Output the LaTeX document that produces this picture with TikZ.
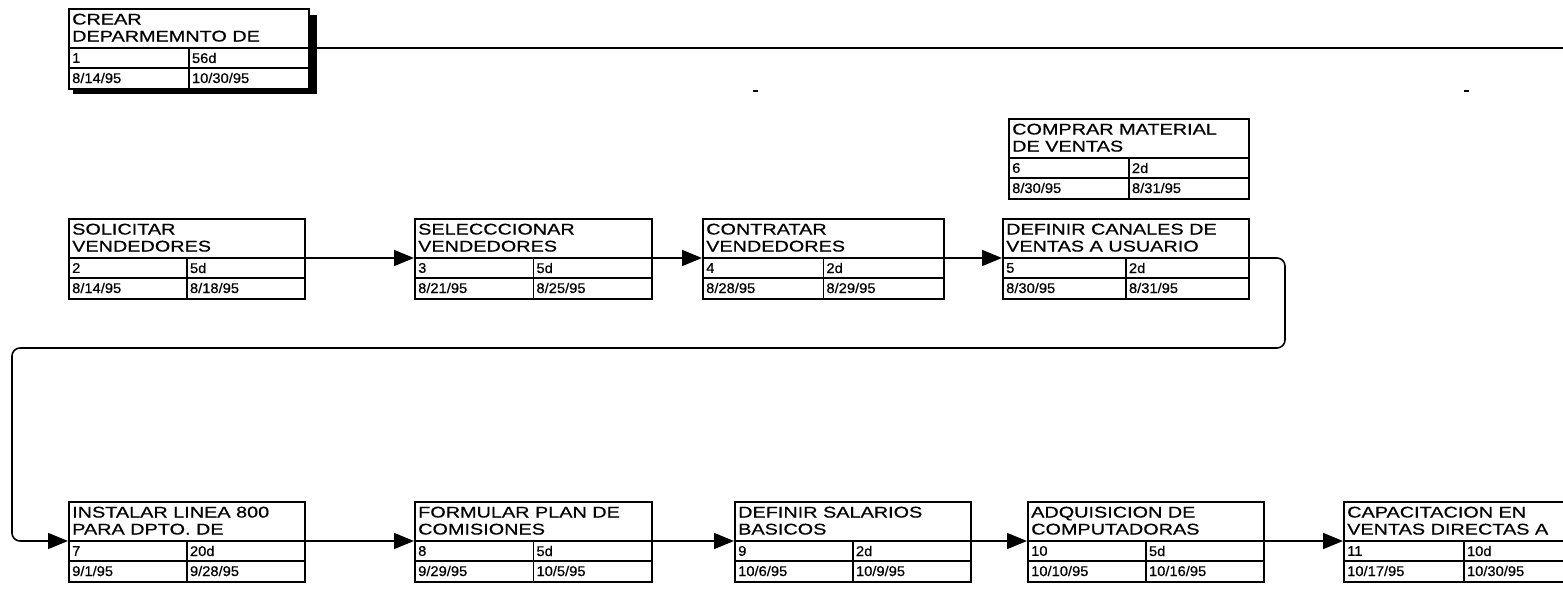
\documentclass[tikz,border=0pt]{standalone}
\usepackage{fontspec}
\setmainfont{Liberation Sans}
\newfontfamily\widesans[FakeStretch=1.28,FakeBold=0.5]{Liberation Sans}
\newfontfamily\cellsans[FakeStretch=1.05,FakeBold=0.5]{Liberation Sans}
\usetikzlibrary{arrows.meta,calc}
\tikzset{
  x=1pt, y=1pt,
  box/.style={draw, line width=1.6pt, inner sep=0pt, anchor=north west},
  ttl/.style={anchor=north west, inner sep=0pt, align=left, font=\widesans\fontsize{15.5}{17}\selectfont},
  cell/.style={anchor=west, inner sep=0pt, font=\cellsans\fontsize{14}{15}\selectfont},
  div/.style={line width=1.6pt},
  conn/.style={line width=1.6pt, -{Triangle[length=20pt,width=16pt]}},
}
\newcommand\pertbox[9]{%
  \node[box, minimum width=#4pt, minimum height=80pt] (#1) at (#2,#3) {};
  \coordinate (#1-w) at ($(#1.north west)+(0,-40)$);
  \coordinate (#1-e) at ($(#1.north east)+(0,-40)$);
  \draw[div] (#1-w) -- (#1-e);
  \draw[div] ($(#1.north west)+(0,-60)$) -- ($(#1.north east)+(0,-60)$);
  \draw[div] ($(#1.north)+(0,-40)$) -- (#1.south);
  \node[ttl] (#1-t) at ($(#1.north west)+(4,-5.5)$) {#5};
  \node[cell] (#1-i) at ($(#1.north west)+(4,-50)$) {#6};
  \node[cell] (#1-d) at ($(#1.north)+(3,-50)$) {#7};
  \node[cell] (#1-s) at ($(#1.north west)+(4,-70)$) {#8};
  \node[cell] (#1-f) at ($(#1.north)+(3,-70)$) {#9};
}
\begin{document}
\begin{tikzpicture}
\useasboundingbox (0,0) rectangle (1563,-609);
\fill[white] (0,0) rectangle (1563,-609);
\coordinate (rimR) at (1563,0);

\pertbox{n1}{68}{-8}{240}{CREAR\\DEPARMEMNTO DE}{1}{56d}{8/14/95}{10/30/95}
\fill ($(n1.north east)+(0,-7)$) rectangle ($(n1.south east)+(7,-4)$);
\fill ($(n1.south west)+(5,0)$) rectangle ($(n1.south east)+(7,-4)$);
\draw[div] (n1-e) -- (n1-e -| rimR);

\pertbox{n6}{1008}{-118}{240}{COMPRAR MATERIAL\\DE VENTAS}{6}{2d}{8/30/95}{8/31/95}

\pertbox{n2}{68}{-218}{236}{SOLICITAR\\VENDEDORES}{2}{5d}{8/14/95}{8/18/95}
\pertbox{n3}{414}{-218}{237}{SELECCCIONAR\\VENDEDORES}{3}{5d}{8/21/95}{8/25/95}
\pertbox{n4}{702}{-218}{241}{CONTRATAR\\VENDEDORES}{4}{2d}{8/28/95}{8/29/95}
\pertbox{n5}{1002}{-218}{246}{DEFINIR CANALES DE\\VENTAS A USUARIO}{5}{2d}{8/30/95}{8/31/95}

\pertbox{n7}{68}{-501}{236}{INSTALAR LINEA 800\\PARA DPTO. DE}{7}{20d}{9/1/95}{9/28/95}
\pertbox{n8}{414}{-501}{237}{FORMULAR PLAN DE\\COMISIONES}{8}{5d}{9/29/95}{10/5/95}
\pertbox{n9}{734}{-501}{236}{DEFINIR SALARIOS\\BASICOS}{9}{2d}{10/6/95}{10/9/95}
\pertbox{n10}{1027}{-501}{236}{ADQUISICION DE\\COMPUTADORAS}{10}{5d}{10/10/95}{10/16/95}
\pertbox{n11}{1343}{-501}{240}{CAPACITACION EN\\VENTAS DIRECTAS A}{11}{10d}{10/17/95}{10/30/95}

\draw[conn] (n2-e) -- (n3-w);
\draw[conn] (n3-e) -- (n4-w);
\draw[conn] (n4-e) -- (n5-w);
\coordinate (r1) at (1285,-348);
\coordinate (l1) at (12,-348);
\draw[conn, rounded corners=8pt] (n5-e) -- (n5-e -| r1) -- (r1) -- (l1) -- (l1 |- n7-w) -- (n7-w);
\draw[conn] (n7-e) -- (n8-w);
\draw[conn] (n8-e) -- (n9-w);
\draw[conn] (n9-e) -- (n10-w);
\draw[conn] (n10-e) -- (n11-w);

\draw[line width=1.8pt] (753,-91) -- (758,-91);
\draw[line width=1.8pt] (1464,-91) -- (1469,-91);
\end{tikzpicture}
\end{document}
